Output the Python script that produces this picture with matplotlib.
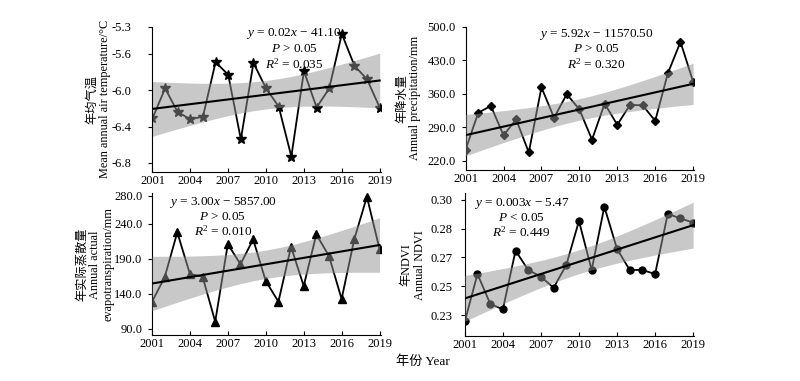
import numpy as np
import matplotlib
matplotlib.use("Agg")
import matplotlib.pyplot as plt

plt.rcParams['font.family'] = ['Liberation Serif', 'Noto Sans CJK SC']
plt.rcParams['font.size'] = 9
plt.rcParams['mathtext.fontset'] = 'custom'
plt.rcParams['mathtext.rm'] = 'Liberation Serif'
plt.rcParams['mathtext.it'] = 'Liberation Serif:italic'

years = np.arange(2001, 2020)
xticks = [2001, 2004, 2007, 2010, 2013, 2016, 2019]

temperature = [-6.31, -5.98, -6.24, -6.32, -6.29, -5.69, -5.83, -6.54, -5.70, -5.98,
               -6.18, -6.73, -5.79, -6.19, -5.98, -5.38, -5.73, -5.88, -6.19]
precipitation = [243.2, 320.6, 334.7, 273.5, 306.5, 237.6, 373.4, 310.1, 359.3, 327.6,
                 264.3, 339.6, 295.3, 336.8, 336.1, 303.7, 402.9, 468.3, 385.3]
evapotranspiration = [128.9, 163.6, 227.8, 168.4, 164.6, 100.5, 211.1, 182.2, 217.8, 158.4,
                      128.9, 207.3, 151.3, 224.9, 194.0, 132.8, 217.8, 278.6, 204.0]
ndvi = [0.2261, 0.2549, 0.2369, 0.2334, 0.2691, 0.2574, 0.2533, 0.2466, 0.2604, 0.2872,
        0.2574, 0.2959, 0.2702, 0.2574, 0.2574, 0.2549, 0.2915, 0.2888, 0.2862]

temp_yticks = [-6.8, -6.4, -6.0, -5.6, -5.3]
temp_ylabels = ['-6.8', '-6.4', '-6.0', '-5.6', '-5.3']
prec_yticks = [220, 290, 360, 430, 500]
prec_ylabels = ['220.0', '290.0', '360.0', '430.0', '500.0']
et_yticks = [90, 140, 190, 240, 280]
et_ylabels = ['90.0', '140.0', '190.0', '240.0', '280.0']
ndvi_yticks = [0.23, 0.2475, 0.265, 0.2825, 0.30]
ndvi_ylabels = ['0.23', '0.25', '0.27', '0.28', '0.30']

stats_text = {
    'temp': ['$y$ = 0.02$x$ − 41.10', '$P$ > 0.05', '$R$$^2$ = 0.035'],
    'prec': ['$y$ = 5.92$x$ − 11570.50', '$P$ > 0.05', '$R$$^2$ = 0.320'],
    'et': ['$y$ = 3.00$x$ − 5857.00', '$P$ > 0.05', '$R$$^2$ = 0.010'],
    'ndvi': ['$y$ = 0.003$x$ − 5.47', '$P$ < 0.05', '$R$$^2$ = 0.449'],
}

T_17 = 2.1098  # t(0.975, df=17)


def draw_panel(ax, y, marker, msize, yticks, ylabels, ylim, ylabel, label_x,
               ypad, lines, tx, ty):
    y = np.asarray(y, dtype=float)
    x = years.astype(float)
    ax.plot(x, y, color='black', lw=1.3, marker=marker, ms=msize, zorder=2)

    # linear fit with 95% confidence band
    b, a = np.polyfit(x, y, 1)
    fit = a + b * x
    n = len(x)
    s = np.sqrt(np.sum((y - fit) ** 2) / (n - 2))
    sxx = np.sum((x - x.mean()) ** 2)
    se = s * np.sqrt(1.0 / n + (x - x.mean()) ** 2 / sxx)
    ax.fill_between(x, fit - T_17 * se, fit + T_17 * se, color='#939393',
                    alpha=0.5, lw=0, zorder=3)
    ax.plot(x, fit, color='black', lw=1.5, zorder=4)

    ax.set_xlim(2001, 2019.1)
    ax.set_xticks(xticks)
    ax.set_ylim(*ylim)
    ax.set_yticks(yticks)
    ax.set_yticklabels(ylabels)
    ax.spines['top'].set_visible(False)
    ax.spines['right'].set_visible(False)
    ax.tick_params(axis='x', direction='in', length=3, width=0.8, pad=2)
    ax.tick_params(axis='y', length=3, width=0.8, pad=ypad)
    ax.set_ylabel(ylabel, fontsize=8.8, linespacing=1.1)
    ax.yaxis.set_label_coords(label_x, 0.5)
    for i, t in enumerate(lines):
        ax.text(tx, ty - i * 0.103, t, transform=ax.transAxes, ha='center',
                va='center', fontsize=9.5, zorder=5)


fig = plt.figure(figsize=(8, 3.81), dpi=100)
ax1 = fig.add_axes([0.1906, 0.5486, 0.2856, 0.3814])
ax2 = fig.add_axes([0.582, 0.5538, 0.286, 0.376])
ax3 = fig.add_axes([0.19, 0.12, 0.286, 0.3727])
ax4 = fig.add_axes([0.581, 0.118, 0.287, 0.3745])

draw_panel(ax1, temperature, '*', 7, temp_yticks, temp_ylabels, (-6.9, -5.3),
           '年均气温\nMean annual air temperature/°C', -0.182, 12,
           stats_text['temp'], 0.62, 0.95)
draw_panel(ax2, precipitation, 'D', 4.5, prec_yticks, prec_ylabels, (201, 500),
           '年降水量\nAnnual precipitation/mm', -0.195, 4,
           stats_text['prec'], 0.572, 0.945)
draw_panel(ax3, evapotranspiration, '^', 5.5, et_yticks, et_ylabels, (81, 283.5),
           '年实际蒸散量\nAnnual actual\nevapotranspiration/mm', -0.166, 4,
           stats_text['et'], 0.31, 0.935)
draw_panel(ax4, ndvi, 'o', 5, ndvi_yticks, ndvi_ylabels, (0.2172, 0.304),
           '年NDVI\nAnnual NDVI', -0.17, 6,
           stats_text['ndvi'], 0.247, 0.93)

fig.text(0.528, 0.05, '年份 Year', ha='center', va='center', fontsize=9.5)

fig.savefig('out.png', dpi=100)
